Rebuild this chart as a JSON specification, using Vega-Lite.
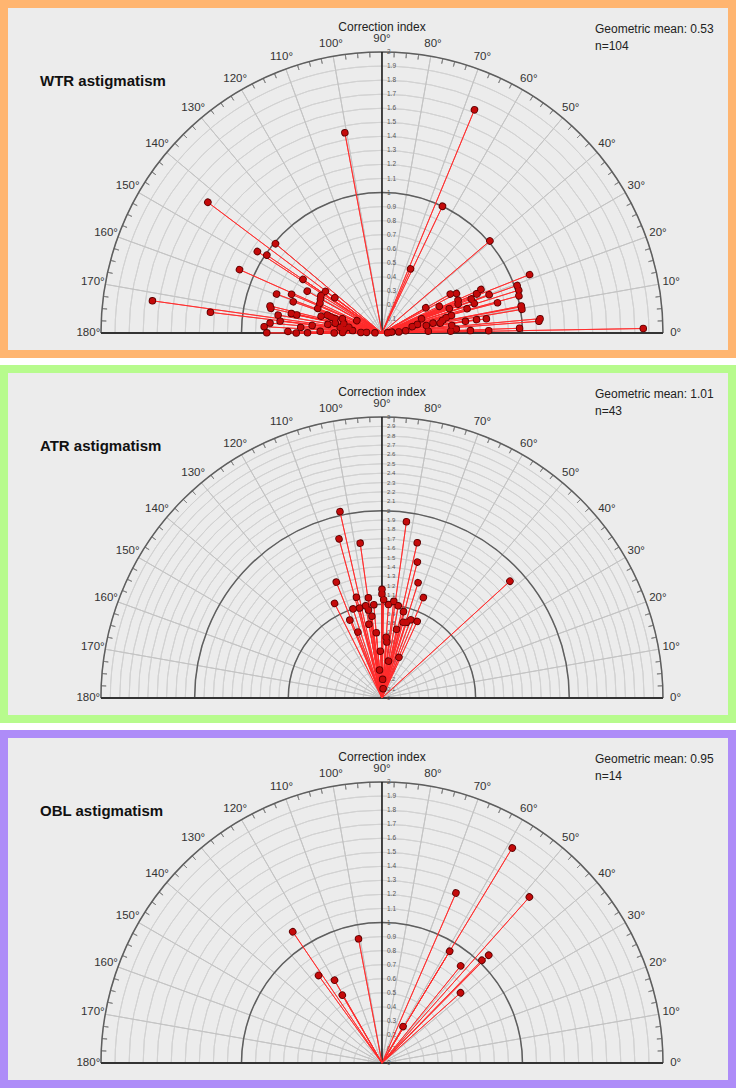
{
"$schema": "https://vega.github.io/schema/vega-lite/v6.json",
"padding": 0,
"spacing": 7,
"background": "white",
"config": {"font": "Liberation Sans"},
"datasets": {
"r2": [{"r":0},{"r":0.1},{"r":0.2},{"r":0.3},{"r":0.4},{"r":0.5},{"r":0.6},{"r":0.7},{"r":0.8},{"r":0.9},{"r":1},{"r":1.1},{"r":1.2},{"r":1.3},{"r":1.4},{"r":1.5},{"r":1.6},{"r":1.7},{"r":1.8},{"r":1.9},{"r":2}],
"r3": [{"r":0},{"r":0.1},{"r":0.2},{"r":0.3},{"r":0.4},{"r":0.5},{"r":0.6},{"r":0.7},{"r":0.8},{"r":0.9},{"r":1},{"r":1.1},{"r":1.2},{"r":1.3},{"r":1.4},{"r":1.5},{"r":1.6},{"r":1.7},{"r":1.8},{"r":1.9},{"r":2},{"r":2.1},{"r":2.2},{"r":2.3},{"r":2.4},{"r":2.5},{"r":2.6},{"r":2.7},{"r":2.8},{"r":2.9},{"r":3}],
"maj2": [{"r":1},{"r":2}],
"maj3": [{"r":1},{"r":2},{"r":3}],
"spokes": [{"a":10},{"a":20},{"a":30},{"a":40},{"a":50},{"a":60},{"a":70},{"a":80},{"a":100},{"a":110},{"a":120},{"a":130},{"a":140},{"a":150},{"a":160},{"a":170}],
"ticks": [{"a":2.5},{"a":5},{"a":7.5},{"a":12.5},{"a":15},{"a":17.5},{"a":22.5},{"a":25},{"a":27.5},{"a":32.5},{"a":35},{"a":37.5},{"a":42.5},{"a":45},{"a":47.5},{"a":52.5},{"a":55},{"a":57.5},{"a":62.5},{"a":65},{"a":67.5},{"a":72.5},{"a":75},{"a":77.5},{"a":82.5},{"a":85},{"a":87.5},{"a":92.5},{"a":95},{"a":97.5},{"a":102.5},{"a":105},{"a":107.5},{"a":112.5},{"a":115},{"a":117.5},{"a":122.5},{"a":125},{"a":127.5},{"a":132.5},{"a":135},{"a":137.5},{"a":142.5},{"a":145},{"a":147.5},{"a":152.5},{"a":155},{"a":157.5},{"a":162.5},{"a":165},{"a":167.5},{"a":172.5},{"a":175},{"a":177.5}],
"base": [{"a":0},{"a":180}],
"vert": [{"a":90}],
"ang": [{"a":0,"t":"0°"},{"a":10,"t":"10°"},{"a":20,"t":"20°"},{"a":30,"t":"30°"},{"a":40,"t":"40°"},{"a":50,"t":"50°"},{"a":60,"t":"60°"},{"a":70,"t":"70°"},{"a":80,"t":"80°"},{"a":90,"t":"90°"},{"a":100,"t":"100°"},{"a":110,"t":"110°"},{"a":120,"t":"120°"},{"a":130,"t":"130°"},{"a":140,"t":"140°"},{"a":150,"t":"150°"},{"a":160,"t":"160°"},{"a":170,"t":"170°"},{"a":180,"t":"180°"}],
"wtr": [{"a":100.5,"r":1.45},{"a":67.5,"r":1.72},{"a":64.5,"r":1.0},{"a":66,"r":0.5},{"a":40.5,"r":1.01},{"a":21.6,"r":1.13},{"a":1.0,"r":1.86},{"a":5.2,"r":1.13},{"a":4.3,"r":1.12},{"a":2,"r":0.98},
{"a":143.1,"r":1.55},{"a":172,"r":1.65},{"a":173.1,"r":1.23},{"a":156,"r":1.11},{"a":140,"r":0.99},{"a":146.8,"r":1.06},{"a":145.9,"r":0.99},{"a":145.8,"r":0.68},
{"a":159.7,"r":0.8},{"a":156.8,"r":0.7},{"a":150.7,"r":0.61},{"a":160.6,"r":0.67},{"a":166.4,"r":0.82},{"a":167.5,"r":0.81},{"a":170.2,"r":0.75},{"a":167.8,"r":0.66},{"a":168,"r":0.62},{"a":173.3,"r":0.73},{"a":174.9,"r":0.8},{"a":176.9,"r":0.84},{"a":179.9,"r":0.82},{"a":179,"r":0.67},{"a":179.9,"r":0.61},{"a":179.8,"r":0.53},{"a":178.4,"r":0.44},{"a":179.8,"r":0.34},{"a":179.2,"r":0.28},{"a":174.3,"r":0.27},{"a":175.2,"r":0.21},{"a":178.5,"r":0.15},{"a":177.8,"r":0.11},{"a":153.7,"r":0.2},{"a":166.3,"r":0.28},{"a":162.9,"r":0.35},{"a":170.9,"r":0.39},{"a":164.5,"r":0.45},{"a":173.8,"r":0.5},{"a":161.8,"r":0.41},{"a":143.1,"r":0.42},{"a":143.6,"r":0.5},{"a":148.4,"r":0.51},{"a":154.4,"r":0.49},{"a":159,"r":0.49},{"a":151,"r":0.5},{"a":162.6,"r":0.38},{"a":168.1,"r":0.34},{"a":172.2,"r":0.3},
{"a":19.4,"r":1.02},{"a":17.4,"r":1.02},{"a":15.2,"r":1.01},{"a":10.7,"r":1.01},{"a":9.6,"r":1.01},{"a":14.7,"r":0.85},{"a":23.8,"r":0.77},{"a":22.4,"r":0.73},{"a":19.7,"r":0.81},{"a":17.8,"r":0.69},{"a":20.9,"r":0.68},{"a":23.4,"r":0.59},{"a":20.8,"r":0.58},{"a":29.7,"r":0.56},{"a":20,"r":0.51},{"a":14.2,"r":0.51},{"a":11.8,"r":0.44},{"a":11,"r":0.37},{"a":6.2,"r":0.5},{"a":3.1,"r":0.53},{"a":8.1,"r":0.68},{"a":7.8,"r":0.75},{"a":1.3,"r":0.76},{"a":1.6,"r":0.49},{"a":2.3,"r":0.33},{"a":20,"r":0.3},{"a":9.7,"r":0.32},{"a":13.8,"r":0.26},{"a":5.6,"r":0.17},{"a":3.9,"r":0.12},{"a":5.5,"r":0.07},{"a":9.7,"r":0.42},{"a":13.5,"r":0.47},{"a":22.6,"r":0.73},{"a":1.6,"r":0.63},{"a":11,"r":1.01},
{"a":178,"r":0.05},{"a":2,"r":0.04},{"a":170,"r":0.24},{"a":12,"r":0.22},{"a":30,"r":0.36},{"a":25,"r":0.45},{"a":160,"r":0.3},{"a":8,"r":0.6},{"a":16,"r":0.63},{"a":28,"r":0.6},{"a":176,"r":0.58}],
"atr": [{"a":102.7,"r":2.04},{"a":105.1,"r":1.76},{"a":98,"r":1.67},{"a":82.1,"r":1.9},{"a":77.2,"r":1.7},{"a":75.4,"r":1.5},{"a":72.6,"r":1.29},{"a":42.4,"r":1.85},{"a":67.6,"r":1.16},{"a":116.6,"r":1.13},{"a":111.5,"r":1.33},{"a":104.2,"r":1.11},{"a":97.7,"r":1.08},{"a":90,"r":1.16},{"a":90,"r":1.11},{"a":89,"r":1.05},{"a":83,"r":1.04},{"a":98.7,"r":0.95},{"a":97,"r":0.88},{"a":112.4,"r":0.9},{"a":74.4,"r":0.84},{"a":69.8,"r":0.89},{"a":65.3,"r":0.9},{"a":67.3,"r":0.47},
{"a":108,"r":1.0},{"a":104,"r":0.99},{"a":100,"r":1.0},{"a":95,"r":1.0},{"a":86,"r":1.0},{"a":80,"r":1.0},{"a":76,"r":0.95},{"a":72,"r":0.85},{"a":78,"r":0.75},{"a":100,"r":0.8},{"a":95,"r":0.7},{"a":85,"r":0.6},{"a":92,"r":0.5},{"a":80,"r":0.4},{"a":95,"r":0.3},{"a":88,"r":0.2},{"a":83,"r":0.1},{"a":110,"r":0.75},{"a":86,"r":0.65}],
"obl": [{"a":58.8,"r":1.79},{"a":48.4,"r":1.58},{"a":66.5,"r":1.32},{"a":58.8,"r":0.93},{"a":45.3,"r":1.08},{"a":45.8,"r":1.02},{"a":51,"r":0.89},{"a":41.8,"r":0.75},{"a":100.7,"r":0.9},{"a":124.2,"r":1.13},{"a":125.9,"r":0.77},{"a":119.8,"r":0.68},{"a":120.3,"r":0.56},{"a":60,"r":0.3}]
},
"vconcat": [
{
"width": 728, "height": 350,
"view": {"fill": "#ececec", "stroke": "#ffb570", "strokeWidth": 8},
"encoding": {
 "x": {"datum": 0, "type": "quantitative", "scale": {"domain": [-2.690, 2.491]}, "axis": null},
 "y": {"datum": 0, "type": "quantitative", "scale": {"domain": [-0.149, 2.342]}, "axis": null}
},
"layer": [
 {"data": {"name": "r2"}, "mark": {"type": "arc", "filled": false, "stroke": "#d2d2d2", "strokeWidth": 1},
  "encoding": {"theta": {"datum": 0, "type": "quantitative", "stack": null, "scale": {"domain": [0,180], "range": [1.5708,-1.5708]}}, "theta2": {"datum": 180},
   "radius": {"field": "r", "type": "quantitative", "scale": {"type": "linear", "domain": [0,2], "range": [0,281]}}, "radius2": {"field": "r"}}},
 {"data": {"name": "spokes"}, "mark": {"type": "arc", "filled": false, "stroke": "#c4c4c4", "strokeWidth": 1},
  "encoding": {"theta": {"field": "a", "type": "quantitative", "stack": null, "scale": {"domain": [0,180], "range": [1.5708,-1.5708]}}, "theta2": {"field": "a"},
   "radius": {"datum": 2, "type": "quantitative", "scale": {"type": "linear", "domain": [0,2], "range": [0,281]}}, "radius2": {"value": 0}}},
 {"data": {"name": "ticks"}, "mark": {"type": "arc", "filled": false, "stroke": "#888888", "strokeWidth": 1},
  "encoding": {"theta": {"field": "a", "type": "quantitative", "stack": null, "scale": {"domain": [0,180], "range": [1.5708,-1.5708]}}, "theta2": {"field": "a"},
   "radius": {"datum": 2, "type": "quantitative", "scale": {"type": "linear", "domain": [0,2], "range": [0,281]}}, "radius2": {"datum": 1.964}}},
 {"data": {"name": "maj2"}, "mark": {"type": "arc", "filled": false, "stroke": "#5e5e5e", "strokeWidth": 1.5},
  "encoding": {"theta": {"datum": 0, "type": "quantitative", "stack": null, "scale": {"domain": [0,180], "range": [1.5708,-1.5708]}}, "theta2": {"datum": 180},
   "radius": {"field": "r", "type": "quantitative", "scale": {"type": "linear", "domain": [0,2], "range": [0,281]}}, "radius2": {"field": "r"}}},
 {"data": {"name": "base"}, "mark": {"type": "arc", "filled": false, "stroke": "#333333", "strokeWidth": 2},
  "encoding": {"theta": {"field": "a", "type": "quantitative", "stack": null, "scale": {"domain": [0,180], "range": [1.5708,-1.5708]}}, "theta2": {"field": "a"},
   "radius": {"datum": 2, "type": "quantitative", "scale": {"type": "linear", "domain": [0,2], "range": [0,281]}}, "radius2": {"value": 0}}},
 {"data": {"name": "vert"}, "mark": {"type": "arc", "filled": false, "stroke": "#1a1a1a", "strokeWidth": 1.6},
  "encoding": {"theta": {"field": "a", "type": "quantitative", "stack": null, "scale": {"domain": [0,180], "range": [1.5708,-1.5708]}}, "theta2": {"field": "a"},
   "radius": {"datum": 2, "type": "quantitative", "scale": {"type": "linear", "domain": [0,2], "range": [0,281]}}, "radius2": {"value": 0}}},
 {"data": {"name": "r2"}, "mark": {"type": "text", "fontSize": 6.5, "color": "#555555", "align": "left", "baseline": "middle", "dx": 5},
  "encoding": {"theta": {"datum": 90, "type": "quantitative", "stack": null, "scale": {"domain": [0,180], "range": [1.5708,-1.5708]}},
   "radius": {"field": "r", "type": "quantitative", "scale": {"type": "linear", "domain": [0,2], "range": [0,281]}},
   "text": {"field": "r", "type": "quantitative", "format": "~g"}}},
 {"data": {"name": "ang"}, "mark": {"type": "text", "fontSize": 11.5, "color": "#333333", "align": "center", "baseline": "middle"},
  "encoding": {"theta": {"field": "a", "type": "quantitative", "stack": null, "scale": {"domain": [0,180], "range": [1.5708,-1.5708]}},
   "radius": {"datum": 2.09, "type": "quantitative", "scale": {"type": "linear", "domain": [0,2], "range": [0,281]}},
   "text": {"field": "t"}}},
 {"data": {"name": "wtr"}, "mark": {"type": "arc", "filled": false, "stroke": "#ff2a2a", "strokeWidth": 1, "strokeOpacity": 0.85},
  "encoding": {"theta": {"field": "a", "type": "quantitative", "stack": null, "scale": {"domain": [0,180], "range": [1.5708,-1.5708]}}, "theta2": {"field": "a"},
   "radius": {"field": "r", "type": "quantitative", "scale": {"type": "linear", "domain": [0,2], "range": [0,281]}}, "radius2": {"value": 0}}},
 {"data": {"name": "wtr"}, "mark": {"type": "arc", "filled": false, "stroke": "#5a0000", "strokeWidth": 7.5, "strokeCap": "round", "strokeDash": [0.01, 3000]},
  "encoding": {"theta": {"field": "a", "type": "quantitative", "stack": null, "scale": {"domain": [0,180], "range": [1.5708,-1.5708]}}, "theta2": {"field": "a"},
   "radius": {"field": "r", "type": "quantitative", "scale": {"type": "linear", "domain": [0,2], "range": [0,281]}}, "radius2": {"value": 0}}},
 {"data": {"name": "wtr"}, "mark": {"type": "arc", "filled": false, "stroke": "#c40a0a", "strokeWidth": 5.8, "strokeCap": "round", "strokeDash": [0.01, 3000]},
  "encoding": {"theta": {"field": "a", "type": "quantitative", "stack": null, "scale": {"domain": [0,180], "range": [1.5708,-1.5708]}}, "theta2": {"field": "a"},
   "radius": {"field": "r", "type": "quantitative", "scale": {"type": "linear", "domain": [0,2], "range": [0,281]}}, "radius2": {"value": 0}}},
 {"data": {"values": [{}]}, "mark": {"type": "text", "text": "WTR astigmatism", "fontSize": 15, "fontWeight": "bold", "color": "#111111", "align": "left", "baseline": "middle"},
  "encoding": {"x": {"datum": -2.434}, "y": {"datum": 1.794}}},
 {"data": {"values": [{}]}, "mark": {"type": "text", "text": "Geometric mean: 0.53", "fontSize": 12, "color": "#222222", "align": "left", "baseline": "middle"},
  "encoding": {"x": {"datum": 1.516}, "y": {"datum": 2.164}}},
 {"data": {"values": [{}]}, "mark": {"type": "text", "text": "n=104", "fontSize": 12, "color": "#222222", "align": "left", "baseline": "middle"},
  "encoding": {"x": {"datum": 1.516}, "y": {"datum": 2.043}}},
 {"data": {"values": [{}]}, "mark": {"type": "text", "text": "Correction index", "fontSize": 12, "color": "#222222", "align": "center", "baseline": "middle"},
  "encoding": {"x": {"datum": 0}, "y": {"datum": 2.178}}}
]
},
{
"width": 728, "height": 350,
"view": {"fill": "#ececec", "stroke": "#b7fb8d", "strokeWidth": 8},
"encoding": {
 "x": {"datum": 0, "type": "quantitative", "scale": {"domain": [-4.035, 3.737]}, "axis": null},
 "y": {"datum": 0, "type": "quantitative", "scale": {"domain": [-0.224, 3.512]}, "axis": null}
},
"layer": [
 {"data": {"name": "r3"}, "mark": {"type": "arc", "filled": false, "stroke": "#d2d2d2", "strokeWidth": 1},
  "encoding": {"theta": {"datum": 0, "type": "quantitative", "stack": null, "scale": {"domain": [0,180], "range": [1.5708,-1.5708]}}, "theta2": {"datum": 180},
   "radius": {"field": "r", "type": "quantitative", "scale": {"type": "linear", "domain": [0,3], "range": [0,281]}}, "radius2": {"field": "r"}}},
 {"data": {"name": "spokes"}, "mark": {"type": "arc", "filled": false, "stroke": "#c4c4c4", "strokeWidth": 1},
  "encoding": {"theta": {"field": "a", "type": "quantitative", "stack": null, "scale": {"domain": [0,180], "range": [1.5708,-1.5708]}}, "theta2": {"field": "a"},
   "radius": {"datum": 3, "type": "quantitative", "scale": {"type": "linear", "domain": [0,3], "range": [0,281]}}, "radius2": {"value": 0}}},
 {"data": {"name": "ticks"}, "mark": {"type": "arc", "filled": false, "stroke": "#888888", "strokeWidth": 1},
  "encoding": {"theta": {"field": "a", "type": "quantitative", "stack": null, "scale": {"domain": [0,180], "range": [1.5708,-1.5708]}}, "theta2": {"field": "a"},
   "radius": {"datum": 3, "type": "quantitative", "scale": {"type": "linear", "domain": [0,3], "range": [0,281]}}, "radius2": {"datum": 2.947}}},
 {"data": {"name": "maj3"}, "mark": {"type": "arc", "filled": false, "stroke": "#5e5e5e", "strokeWidth": 1.5},
  "encoding": {"theta": {"datum": 0, "type": "quantitative", "stack": null, "scale": {"domain": [0,180], "range": [1.5708,-1.5708]}}, "theta2": {"datum": 180},
   "radius": {"field": "r", "type": "quantitative", "scale": {"type": "linear", "domain": [0,3], "range": [0,281]}}, "radius2": {"field": "r"}}},
 {"data": {"name": "base"}, "mark": {"type": "arc", "filled": false, "stroke": "#333333", "strokeWidth": 2},
  "encoding": {"theta": {"field": "a", "type": "quantitative", "stack": null, "scale": {"domain": [0,180], "range": [1.5708,-1.5708]}}, "theta2": {"field": "a"},
   "radius": {"datum": 3, "type": "quantitative", "scale": {"type": "linear", "domain": [0,3], "range": [0,281]}}, "radius2": {"value": 0}}},
 {"data": {"name": "vert"}, "mark": {"type": "arc", "filled": false, "stroke": "#1a1a1a", "strokeWidth": 1.6},
  "encoding": {"theta": {"field": "a", "type": "quantitative", "stack": null, "scale": {"domain": [0,180], "range": [1.5708,-1.5708]}}, "theta2": {"field": "a"},
   "radius": {"datum": 3, "type": "quantitative", "scale": {"type": "linear", "domain": [0,3], "range": [0,281]}}, "radius2": {"value": 0}}},
 {"data": {"name": "r3"}, "mark": {"type": "text", "fontSize": 6, "color": "#555555", "align": "left", "baseline": "middle", "dx": 5},
  "encoding": {"theta": {"datum": 90, "type": "quantitative", "stack": null, "scale": {"domain": [0,180], "range": [1.5708,-1.5708]}},
   "radius": {"field": "r", "type": "quantitative", "scale": {"type": "linear", "domain": [0,3], "range": [0,281]}},
   "text": {"field": "r", "type": "quantitative", "format": "~g"}}},
 {"data": {"name": "ang"}, "mark": {"type": "text", "fontSize": 11.5, "color": "#333333", "align": "center", "baseline": "middle"},
  "encoding": {"theta": {"field": "a", "type": "quantitative", "stack": null, "scale": {"domain": [0,180], "range": [1.5708,-1.5708]}},
   "radius": {"datum": 3.135, "type": "quantitative", "scale": {"type": "linear", "domain": [0,3], "range": [0,281]}},
   "text": {"field": "t"}}},
 {"data": {"name": "atr"}, "mark": {"type": "arc", "filled": false, "stroke": "#ff2a2a", "strokeWidth": 1, "strokeOpacity": 0.85},
  "encoding": {"theta": {"field": "a", "type": "quantitative", "stack": null, "scale": {"domain": [0,180], "range": [1.5708,-1.5708]}}, "theta2": {"field": "a"},
   "radius": {"field": "r", "type": "quantitative", "scale": {"type": "linear", "domain": [0,3], "range": [0,281]}}, "radius2": {"value": 0}}},
 {"data": {"name": "atr"}, "mark": {"type": "arc", "filled": false, "stroke": "#5a0000", "strokeWidth": 7.5, "strokeCap": "round", "strokeDash": [0.01, 3000]},
  "encoding": {"theta": {"field": "a", "type": "quantitative", "stack": null, "scale": {"domain": [0,180], "range": [1.5708,-1.5708]}}, "theta2": {"field": "a"},
   "radius": {"field": "r", "type": "quantitative", "scale": {"type": "linear", "domain": [0,3], "range": [0,281]}}, "radius2": {"value": 0}}},
 {"data": {"name": "atr"}, "mark": {"type": "arc", "filled": false, "stroke": "#c40a0a", "strokeWidth": 5.8, "strokeCap": "round", "strokeDash": [0.01, 3000]},
  "encoding": {"theta": {"field": "a", "type": "quantitative", "stack": null, "scale": {"domain": [0,180], "range": [1.5708,-1.5708]}}, "theta2": {"field": "a"},
   "radius": {"field": "r", "type": "quantitative", "scale": {"type": "linear", "domain": [0,3], "range": [0,281]}}, "radius2": {"value": 0}}},
 {"data": {"values": [{}]}, "mark": {"type": "text", "text": "ATR astigmatism", "fontSize": 15, "fontWeight": "bold", "color": "#111111", "align": "left", "baseline": "middle"},
  "encoding": {"x": {"datum": -3.651}, "y": {"datum": 2.69}}},
 {"data": {"values": [{}]}, "mark": {"type": "text", "text": "Geometric mean: 1.01", "fontSize": 12, "color": "#222222", "align": "left", "baseline": "middle"},
  "encoding": {"x": {"datum": 2.274}, "y": {"datum": 3.245}}},
 {"data": {"values": [{}]}, "mark": {"type": "text", "text": "n=43", "fontSize": 12, "color": "#222222", "align": "left", "baseline": "middle"},
  "encoding": {"x": {"datum": 2.274}, "y": {"datum": 3.064}}},
 {"data": {"values": [{}]}, "mark": {"type": "text", "text": "Correction index", "fontSize": 12, "color": "#222222", "align": "center", "baseline": "middle"},
  "encoding": {"x": {"datum": 0}, "y": {"datum": 3.267}}}
]
},
{
"width": 728, "height": 350,
"view": {"fill": "#ececec", "stroke": "#ae8cf8", "strokeWidth": 8},
"encoding": {
 "x": {"datum": 0, "type": "quantitative", "scale": {"domain": [-2.690, 2.491]}, "axis": null},
 "y": {"datum": 0, "type": "quantitative", "scale": {"domain": [-0.149, 2.342]}, "axis": null}
},
"layer": [
 {"data": {"name": "r2"}, "mark": {"type": "arc", "filled": false, "stroke": "#d2d2d2", "strokeWidth": 1},
  "encoding": {"theta": {"datum": 0, "type": "quantitative", "stack": null, "scale": {"domain": [0,180], "range": [1.5708,-1.5708]}}, "theta2": {"datum": 180},
   "radius": {"field": "r", "type": "quantitative", "scale": {"type": "linear", "domain": [0,2], "range": [0,281]}}, "radius2": {"field": "r"}}},
 {"data": {"name": "spokes"}, "mark": {"type": "arc", "filled": false, "stroke": "#c4c4c4", "strokeWidth": 1},
  "encoding": {"theta": {"field": "a", "type": "quantitative", "stack": null, "scale": {"domain": [0,180], "range": [1.5708,-1.5708]}}, "theta2": {"field": "a"},
   "radius": {"datum": 2, "type": "quantitative", "scale": {"type": "linear", "domain": [0,2], "range": [0,281]}}, "radius2": {"value": 0}}},
 {"data": {"name": "ticks"}, "mark": {"type": "arc", "filled": false, "stroke": "#888888", "strokeWidth": 1},
  "encoding": {"theta": {"field": "a", "type": "quantitative", "stack": null, "scale": {"domain": [0,180], "range": [1.5708,-1.5708]}}, "theta2": {"field": "a"},
   "radius": {"datum": 2, "type": "quantitative", "scale": {"type": "linear", "domain": [0,2], "range": [0,281]}}, "radius2": {"datum": 1.964}}},
 {"data": {"name": "maj2"}, "mark": {"type": "arc", "filled": false, "stroke": "#5e5e5e", "strokeWidth": 1.5},
  "encoding": {"theta": {"datum": 0, "type": "quantitative", "stack": null, "scale": {"domain": [0,180], "range": [1.5708,-1.5708]}}, "theta2": {"datum": 180},
   "radius": {"field": "r", "type": "quantitative", "scale": {"type": "linear", "domain": [0,2], "range": [0,281]}}, "radius2": {"field": "r"}}},
 {"data": {"name": "base"}, "mark": {"type": "arc", "filled": false, "stroke": "#333333", "strokeWidth": 2},
  "encoding": {"theta": {"field": "a", "type": "quantitative", "stack": null, "scale": {"domain": [0,180], "range": [1.5708,-1.5708]}}, "theta2": {"field": "a"},
   "radius": {"datum": 2, "type": "quantitative", "scale": {"type": "linear", "domain": [0,2], "range": [0,281]}}, "radius2": {"value": 0}}},
 {"data": {"name": "vert"}, "mark": {"type": "arc", "filled": false, "stroke": "#1a1a1a", "strokeWidth": 1.6},
  "encoding": {"theta": {"field": "a", "type": "quantitative", "stack": null, "scale": {"domain": [0,180], "range": [1.5708,-1.5708]}}, "theta2": {"field": "a"},
   "radius": {"datum": 2, "type": "quantitative", "scale": {"type": "linear", "domain": [0,2], "range": [0,281]}}, "radius2": {"value": 0}}},
 {"data": {"name": "r2"}, "mark": {"type": "text", "fontSize": 6.5, "color": "#555555", "align": "left", "baseline": "middle", "dx": 5},
  "encoding": {"theta": {"datum": 90, "type": "quantitative", "stack": null, "scale": {"domain": [0,180], "range": [1.5708,-1.5708]}},
   "radius": {"field": "r", "type": "quantitative", "scale": {"type": "linear", "domain": [0,2], "range": [0,281]}},
   "text": {"field": "r", "type": "quantitative", "format": "~g"}}},
 {"data": {"name": "ang"}, "mark": {"type": "text", "fontSize": 11.5, "color": "#333333", "align": "center", "baseline": "middle"},
  "encoding": {"theta": {"field": "a", "type": "quantitative", "stack": null, "scale": {"domain": [0,180], "range": [1.5708,-1.5708]}},
   "radius": {"datum": 2.09, "type": "quantitative", "scale": {"type": "linear", "domain": [0,2], "range": [0,281]}},
   "text": {"field": "t"}}},
 {"data": {"name": "obl"}, "mark": {"type": "arc", "filled": false, "stroke": "#ff2a2a", "strokeWidth": 1, "strokeOpacity": 0.85},
  "encoding": {"theta": {"field": "a", "type": "quantitative", "stack": null, "scale": {"domain": [0,180], "range": [1.5708,-1.5708]}}, "theta2": {"field": "a"},
   "radius": {"field": "r", "type": "quantitative", "scale": {"type": "linear", "domain": [0,2], "range": [0,281]}}, "radius2": {"value": 0}}},
 {"data": {"name": "obl"}, "mark": {"type": "arc", "filled": false, "stroke": "#5a0000", "strokeWidth": 7.5, "strokeCap": "round", "strokeDash": [0.01, 3000]},
  "encoding": {"theta": {"field": "a", "type": "quantitative", "stack": null, "scale": {"domain": [0,180], "range": [1.5708,-1.5708]}}, "theta2": {"field": "a"},
   "radius": {"field": "r", "type": "quantitative", "scale": {"type": "linear", "domain": [0,2], "range": [0,281]}}, "radius2": {"value": 0}}},
 {"data": {"name": "obl"}, "mark": {"type": "arc", "filled": false, "stroke": "#c40a0a", "strokeWidth": 5.8, "strokeCap": "round", "strokeDash": [0.01, 3000]},
  "encoding": {"theta": {"field": "a", "type": "quantitative", "stack": null, "scale": {"domain": [0,180], "range": [1.5708,-1.5708]}}, "theta2": {"field": "a"},
   "radius": {"field": "r", "type": "quantitative", "scale": {"type": "linear", "domain": [0,2], "range": [0,281]}}, "radius2": {"value": 0}}},
 {"data": {"values": [{}]}, "mark": {"type": "text", "text": "OBL astigmatism", "fontSize": 15, "fontWeight": "bold", "color": "#111111", "align": "left", "baseline": "middle"},
  "encoding": {"x": {"datum": -2.434}, "y": {"datum": 1.794}}},
 {"data": {"values": [{}]}, "mark": {"type": "text", "text": "Geometric mean: 0.95", "fontSize": 12, "color": "#222222", "align": "left", "baseline": "middle"},
  "encoding": {"x": {"datum": 1.516}, "y": {"datum": 2.164}}},
 {"data": {"values": [{}]}, "mark": {"type": "text", "text": "n=14", "fontSize": 12, "color": "#222222", "align": "left", "baseline": "middle"},
  "encoding": {"x": {"datum": 1.516}, "y": {"datum": 2.043}}},
 {"data": {"values": [{}]}, "mark": {"type": "text", "text": "Correction index", "fontSize": 12, "color": "#222222", "align": "center", "baseline": "middle"},
  "encoding": {"x": {"datum": 0}, "y": {"datum": 2.178}}}
]
}
]
}
